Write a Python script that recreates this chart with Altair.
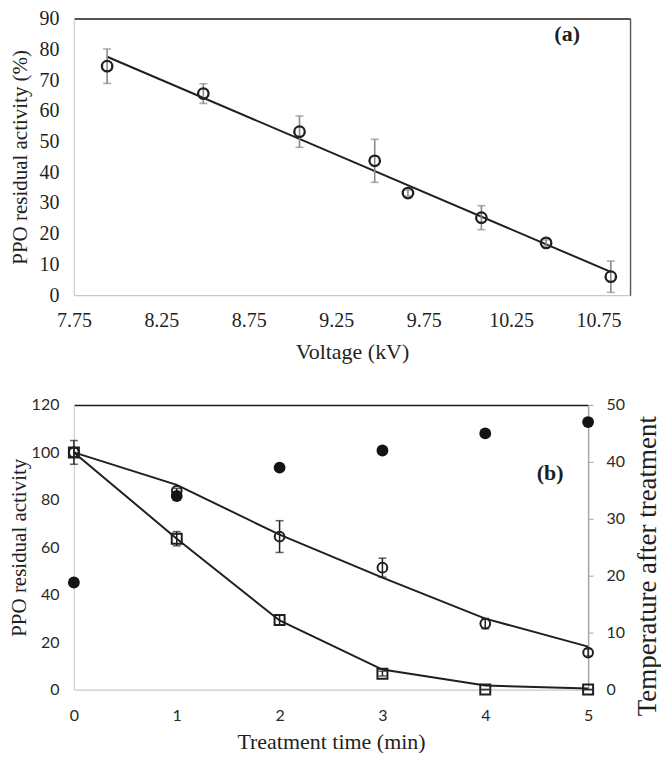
import altair as alt
import pandas as pd

# ---------------- Panel (a) data ----------------
voltage_kv = [7.94, 8.49, 9.04, 9.47, 9.66, 10.08, 10.45, 10.82]
residual_a = [74.5, 65.6, 53.2, 43.7, 33.2, 25.2, 17.0, 6.0]
error_a = [5.6, 3.2, 5.1, 7.0, 1.0, 3.9, 1.0, 5.1]
voltage_ticks = [7.75, 8.25, 8.75, 9.25, 9.75, 10.25, 10.75]
activity_ticks_a = [0, 10, 20, 30, 40, 50, 60, 70, 80, 90]

# ---------------- Panel (b) data ----------------
time_min = [0, 1, 2, 3, 4, 5]
residual_circle = [100, 83.8, 64.5, 51.4, 27.8, 15.6]
error_circle = [5.0, 1.0, 6.7, 4.0, 2.2, 1.5]
fit_circle = [100, 86.3, 65.3, 47.2, 29.9, 18.1]
residual_square = [100, 63.6, 29.3, 6.7, 0.0, 0.0]
error_square = [2.0, 3.0, 2.0, 1.0, 0.0, 0.0]
fit_square = [100, 63.6, 29.1, 8.4, 1.7, 0.4]
temperature = [18.8, 34.0, 39.0, 42.0, 45.0, 47.0]
activity_ticks_b = [0, 20, 40, 60, 80, 100, 120]
temperature_ticks = [0, 10, 20, 30, 40, 50]

SERIF = "Liberation Serif"
SANS = "Lato"
INK = "#1f1f1f"

# ---------------- Panel (a) ----------------
df_a = pd.DataFrame({"voltage": voltage_kv, "activity": residual_a, "err": error_a})
df_a["lo"] = df_a["activity"] - df_a["err"]
df_a["hi"] = df_a["activity"] + df_a["err"]

WA, HA = 557, 277
xs_a = alt.Scale(domain=[7.75, 10.93], nice=False, zero=False)
ys_a = alt.Scale(domain=[0, 90], nice=False)

ax_xa = alt.Axis(values=voltage_ticks, format=".2f", title="Voltage (kV)", orient="bottom",
                 labelFont=SERIF, labelFontSize=20, labelColor=INK, labelPadding=15,
                 titleFont=SERIF, titleFontSize=22, titleFontWeight="normal", titleColor=INK,
                 titlePadding=11, domainColor="#c8c8c8", domainWidth=1.3, ticks=False,
                 tickSize=0, grid=False, labelFlush=False)
ax_ya = alt.Axis(values=activity_ticks_a, title="PPO residual activity (%)", orient="left",
                 labelFont=SERIF, labelFontSize=20, labelColor=INK, labelPadding=15,
                 titleFont=SERIF, titleFontSize=21, titleFontWeight="normal", titleColor=INK,
                 titlePadding=8, domainColor="#d0d0d0", domainWidth=1.3, ticks=False,
                 tickSize=0, grid=False, labelFlush=False)

fit_a = alt.Chart(df_a).transform_regression("voltage", "activity").mark_line(
    color=INK, strokeWidth=2).encode(
    x=alt.X("voltage:Q", scale=xs_a, axis=None),
    y=alt.Y("activity:Q", scale=ys_a, axis=None))
rule_a = alt.Chart(df_a).mark_rule(color="#8a8a8a", strokeWidth=1.6).encode(
    x=alt.X("voltage:Q", scale=xs_a, axis=None),
    y=alt.Y("lo:Q", scale=ys_a, axis=None), y2="hi:Q")
caplo_a = alt.Chart(df_a).mark_tick(orient="horizontal", size=8, thickness=1.6, color="#8a8a8a").encode(
    x=alt.X("voltage:Q", scale=xs_a, axis=None),
    y=alt.Y("lo:Q", scale=ys_a, axis=None))
caphi_a = alt.Chart(df_a).mark_tick(orient="horizontal", size=8, thickness=1.6, color="#8a8a8a").encode(
    x=alt.X("voltage:Q", scale=xs_a, axis=None),
    y=alt.Y("hi:Q", scale=ys_a, axis=None))
pts_a = alt.Chart(df_a).mark_point(shape="circle", filled=False, size=110, strokeWidth=2.3,
                                   color=INK, opacity=1).encode(
    x=alt.X("voltage:Q", scale=xs_a, axis=ax_xa),
    y=alt.Y("activity:Q", scale=ys_a, axis=ax_ya))
frame_a = alt.Chart(df_a).mark_point(opacity=0).encode(
    x=alt.X("voltage:Q", scale=xs_a,
            axis=alt.Axis(orient="top", labels=False, ticks=False, title=None, grid=False,
                          domainColor="#1a1a1a", domainWidth=1.6)),
    y=alt.Y("activity:Q", scale=ys_a,
            axis=alt.Axis(orient="right", labels=False, ticks=False, title=None, grid=False,
                          domainColor="#555555", domainWidth=1.4)))
label_a = alt.Chart(pd.DataFrame({"t": ["(a)"]})).mark_text(
    font=SERIF, fontSize=22, fontWeight="bold", color=INK, align="center", baseline="middle").encode(
    text="t:N", x=alt.value(494), y=alt.value(15))

panel_a = alt.layer(fit_a, rule_a, caplo_a, caphi_a, pts_a, frame_a, label_a).resolve_axis(
    x="independent", y="independent").properties(width=WA, height=HA)

# ---------------- Panel (b) ----------------
df_b = pd.DataFrame({
    "time": time_min,
    "circle": residual_circle, "cerr": error_circle, "cfit": fit_circle,
    "square": residual_square, "serr": error_square, "sfit": fit_square,
    "temp": temperature,
})
df_b["clo"] = df_b["circle"] - df_b["cerr"]
df_b["chi"] = df_b["circle"] + df_b["cerr"]
df_b["slo"] = df_b["square"] - df_b["serr"]
df_b["shi"] = df_b["square"] + df_b["serr"]

WB, HB = 515, 285
xs_b = alt.Scale(domain=[0, 5], nice=False, zero=False)
ys_b = alt.Scale(domain=[0, 120], nice=False)
ts_b = alt.Scale(domain=[0, 50], nice=False)

ax_xb = alt.Axis(values=time_min, format="d", title="Treatment time (min)", orient="bottom",
                 labelFont=SANS, labelFontSize=16, labelColor="#2a2a2a", labelPadding=18,
                 titleFont=SERIF, titleFontSize=22, titleFontWeight="normal", titleColor=INK,
                 titlePadding=8, domainColor="#c8c8c8", domainWidth=1.3, ticks=False,
                 tickSize=0, grid=False, labelFlush=False)
ax_yb = alt.Axis(values=activity_ticks_b, title="PPO residual activity", orient="left",
                 labelFont=SANS, labelFontSize=16, labelColor="#2a2a2a", labelPadding=15,
                 titleFont=SERIF, titleFontSize=21, titleFontWeight="normal", titleColor=INK,
                 titlePadding=2, domainColor="#d0d0d0", domainWidth=1.3, ticks=False,
                 tickSize=0, grid=False, labelFlush=False)
ax_tb = alt.Axis(values=temperature_ticks, title="Temperature after treatment", orient="right",
                 labelFont=SANS, labelFontSize=16, labelColor="#2a2a2a", labelPadding=13,
                 titleFont=SERIF, titleFontSize=27, titleFontWeight="normal", titleColor=INK,
                 titlePadding=10, titleAngle=270, titleBaseline="top", titleY=161,
                 domainColor="#a6a6a6", domainWidth=1.5, ticks=True, tickSize=5,
                 tickColor="#a6a6a6", grid=False, labelFlush=False)

def xb(axis=None):
    return alt.X("time:Q", scale=xs_b, axis=axis)

def yb(field, axis=None):
    return alt.Y(field, scale=ys_b, axis=axis)

line_c = alt.Chart(df_b).mark_line(color=INK, strokeWidth=2).encode(x=xb(), y=yb("cfit:Q"))
line_s = alt.Chart(df_b).mark_line(color=INK, strokeWidth=2).encode(x=xb(), y=yb("sfit:Q"))
rule_c = alt.Chart(df_b).mark_rule(color=INK, strokeWidth=1.5).encode(x=xb(), y=yb("clo:Q"), y2="chi:Q")
capl_c = alt.Chart(df_b).mark_tick(orient="horizontal", size=8, thickness=1.5, color=INK).encode(x=xb(), y=yb("clo:Q"))
caph_c = alt.Chart(df_b).mark_tick(orient="horizontal", size=8, thickness=1.5, color=INK).encode(x=xb(), y=yb("chi:Q"))
rule_s = alt.Chart(df_b).mark_rule(color=INK, strokeWidth=1.5).encode(x=xb(), y=yb("slo:Q"), y2="shi:Q")
capl_s = alt.Chart(df_b).mark_tick(orient="horizontal", size=8, thickness=1.5, color=INK).encode(x=xb(), y=yb("slo:Q"))
caph_s = alt.Chart(df_b).mark_tick(orient="horizontal", size=8, thickness=1.5, color=INK).encode(x=xb(), y=yb("shi:Q"))
pts_c = alt.Chart(df_b).mark_point(shape="circle", filled=False, size=95, strokeWidth=2,
                                   color=INK, opacity=1).encode(x=xb(ax_xb), y=yb("circle:Q", ax_yb))
pts_s = alt.Chart(df_b).mark_point(shape="square", filled=False, size=100, strokeWidth=2,
                                   color=INK, opacity=1).encode(x=xb(), y=yb("square:Q"))
temp_b = alt.Chart(df_b).mark_circle(size=140, color="#141414", opacity=1).encode(
    x=xb(), y=alt.Y("temp:Q", scale=ts_b, axis=ax_tb))
frame_b = alt.Chart(df_b).mark_point(opacity=0).encode(
    x=alt.X("time:Q", scale=xs_b,
            axis=alt.Axis(orient="top", labels=False, ticks=False, title=None, grid=False,
                          domainColor="#1a1a1a", domainWidth=1.6)))
label_b = alt.Chart(pd.DataFrame({"t": ["(b)"]})).mark_text(
    font=SERIF, fontSize=22, fontWeight="bold", color=INK, align="center", baseline="middle").encode(
    text="t:N", x=alt.value(477), y=alt.value(68))

panel_b = alt.layer(line_c, line_s, rule_c, capl_c, caph_c, rule_s, capl_s, caph_s,
                    pts_c, pts_s, temp_b, frame_b, label_b).resolve_scale(
    y="independent").resolve_axis(x="independent", y="independent").properties(width=WB, height=HB)

chart = alt.vconcat(panel_a, panel_b, spacing=35).properties(
    padding={"top": 0, "left": 0, "right": 0, "bottom": 0}
).configure_view(stroke=None)

chart.save("out.html", embed_options={"renderer": "svg", "actions": False})
